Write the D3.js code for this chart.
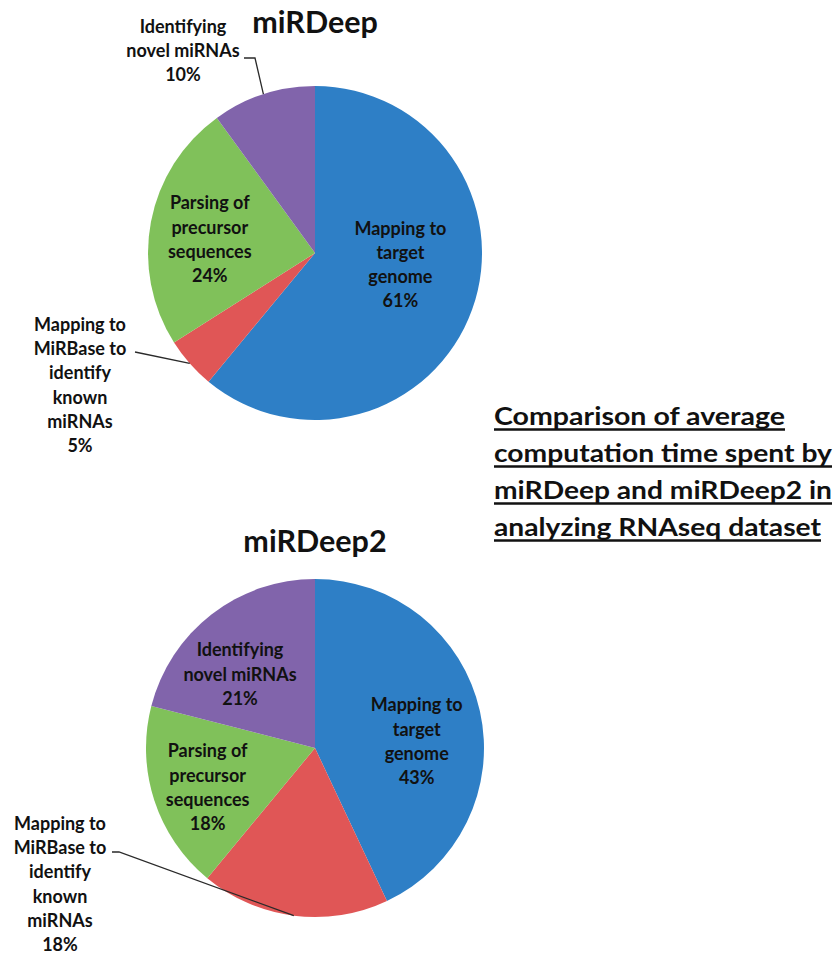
<!DOCTYPE html>
<html>
<head>
<meta charset="utf-8">
<script src="https://cdn.jsdelivr.net/npm/d3@7"></script>
<style>
  html, body { margin: 0; padding: 0; background: #fff; }
  svg { display: block; }
  text { font-family: Lato, "Open Sans", sans-serif; font-weight: 700; fill: #111; }
</style>
</head>
<body>
<svg id="chart" width="840" height="956"></svg>
<script>
// Pipeline stages (same order in both pies, clockwise from 12 o'clock)
const categories = [
  "Mapping to target genome",
  "Mapping to MiRBase to identify known miRNAs",
  "Parsing of precursor sequences",
  "Identifying novel miRNAs"
];
const categoryLines = [
  ["Mapping to", "target", "genome"],
  ["Mapping to", "MiRBase to", "identify", "known", "miRNAs"],
  ["Parsing of", "precursor", "sequences"],
  ["Identifying", "novel miRNAs"]
];
const miRDeepShare = [61, 5, 24, 10];     // % of computation time
const miRDeep2Share = [43, 18, 18, 21];   // % of computation time
const sliceColors = ["#2E7FC6", "#E05656", "#80C15A", "#8164AB"];
const pieTitles = ["miRDeep", "miRDeep2"];
const captionLines = [
  "Comparison of average",
  "computation time spent by",
  "miRDeep and miRDeep2 in",
  "analyzing RNAseq dataset"
];

const svg = d3.select("#chart");
const lineHeight = 24.2;

// Layout of each pie and its labels
const pies = [
  {
    title: pieTitles[0], values: miRDeepShare,
    cx: 315, cy: 253, r: 167, titleY: 33,
    labels: [
      { type: "in", nudge: [-1, -19] },
      { type: "out", x: 80, y: 331, leader: [[135, 352]] },
      { type: "in", nudge: [-15, 4] },
      { type: "out", x: 183, y: 33, leader: [[244, 58], [255, 58]] }
    ]
  },
  {
    title: pieTitles[1], values: miRDeep2Share,
    cx: 315, cy: 748, r: 169, titleY: 552,
    labels: [
      { type: "in", nudge: [11, 14] },
      { type: "out", x: 60, y: 830, leader: [[112, 852], [119, 852]] },
      { type: "in", nudge: [-19, 11] },
      { type: "in", nudge: [-18, 0] }
    ]
  }
];

const pie = d3.pie().sort(null).value(d => d);

pies.forEach(p => {
  const g = svg.append("g").attr("transform", `translate(${p.cx},${p.cy})`);
  const arc = d3.arc().innerRadius(0).outerRadius(p.r);
  const arcs = pie(p.values);

  g.selectAll("path.slice")
    .data(arcs)
    .join("path")
    .attr("class", "slice")
    .attr("d", arc)
    .attr("fill", (d, i) => sliceColors[i]);

  // Title above the pie
  svg.append("text")
    .attr("x", p.cx)
    .attr("y", p.titleY)
    .attr("text-anchor", "middle")
    .attr("font-size", 30.5)
    .text(p.title);

  const labelArc = d3.arc().innerRadius(p.r * 0.55).outerRadius(p.r * 0.55);

  arcs.forEach((d, i) => {
    const cfg = p.labels[i];
    const lines = categoryLines[i].concat([d.data + "%"]);
    let x, y0;
    if (cfg.type === "in") {
      const c = labelArc.centroid(d);
      x = p.cx + c[0] + cfg.nudge[0];
      const cyBlock = p.cy + c[1] + cfg.nudge[1];
      y0 = cyBlock - (lines.length - 1) * lineHeight / 2 + 6;
    } else {
      x = cfg.x;
      y0 = cfg.y;
      // leader line from the label to the slice edge at its mid-angle
      const mid = (d.startAngle + d.endAngle) / 2;
      const edge = [p.cx + Math.sin(mid) * p.r, p.cy - Math.cos(mid) * p.r];
      svg.append("path")
        .attr("d", d3.line()(cfg.leader.concat([edge])))
        .attr("fill", "none")
        .attr("stroke", "#2a2a2a")
        .attr("stroke-width", 1.3);
    }
    const t = svg.append("text")
      .attr("text-anchor", "middle")
      .attr("font-size", 18);
    lines.forEach((ln, k) => {
      t.append("tspan")
        .attr("x", x)
        .attr("y", y0 + k * lineHeight)
        .text(ln);
    });
  });
});

// Underlined caption on the right
const captionWidths = [291, 338, 338, 327];
const cap = svg.append("g");
captionLines.forEach((ln, k) => {
  const y = 425 + k * 37;
  cap.append("text")
    .attr("x", 494)
    .attr("y", y)
    .attr("font-size", 24)
    .attr("textLength", captionWidths[k])
    .attr("lengthAdjust", "spacingAndGlyphs")
    .text(ln);
  cap.append("line")
    .attr("x1", 494).attr("x2", 494 + captionWidths[k])
    .attr("y1", y + 4.5).attr("y2", y + 4.5)
    .attr("stroke", "#111").attr("stroke-width", 2.4);
});
</script>
</body>
</html>
